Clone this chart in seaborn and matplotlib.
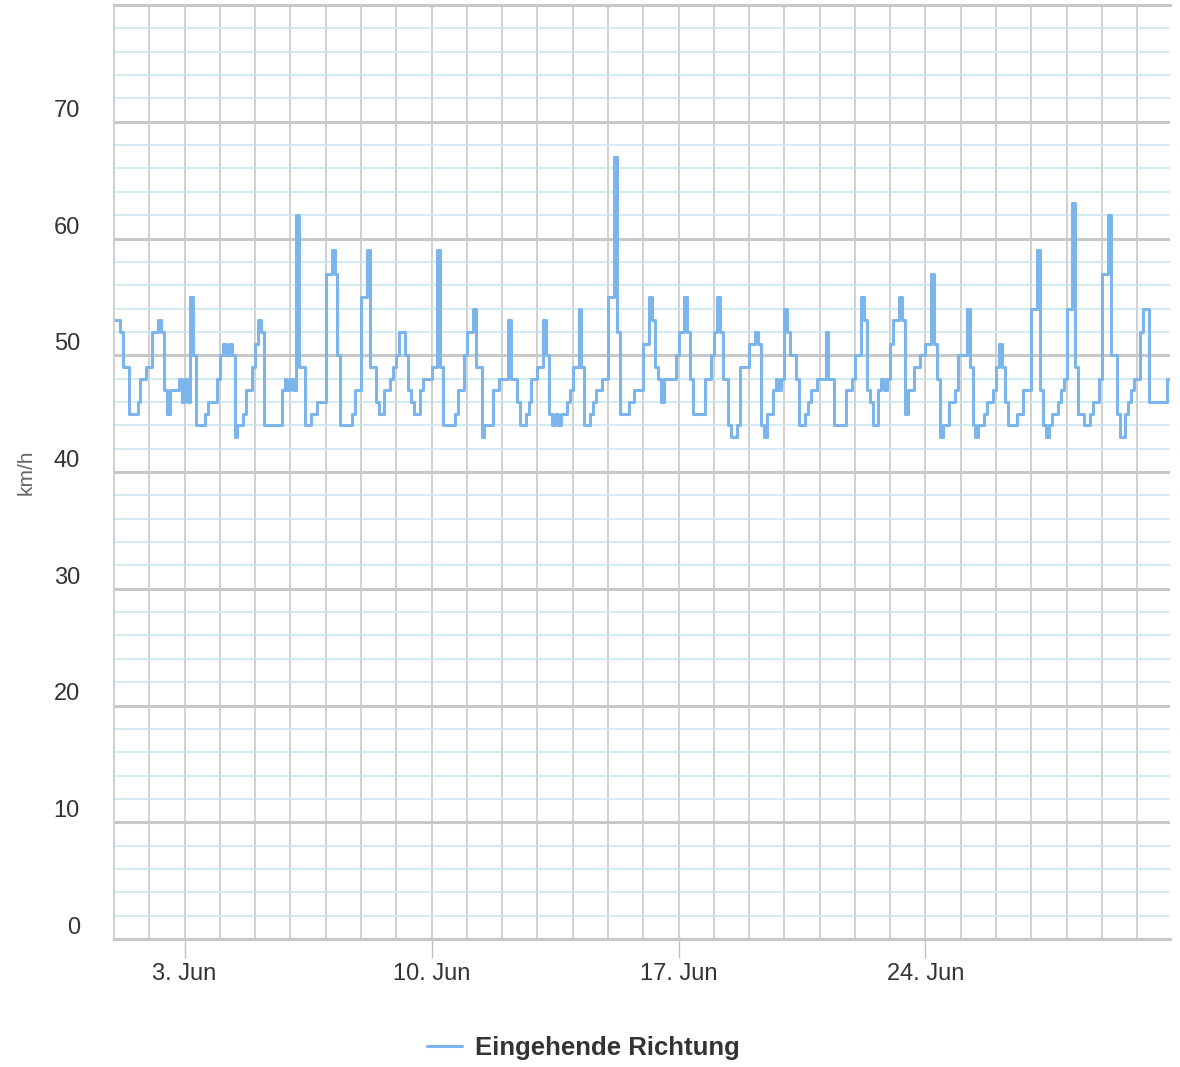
import matplotlib
matplotlib.use("Agg")

import pandas as pd
import matplotlib.pyplot as plt
import matplotlib.dates as mdates
from matplotlib.ticker import MultipleLocator
import seaborn as sns

# ======================================================
# DATA  (2-hour readings, km/h, from 1 June 00:00)
# ======================================================

START = "2019-06-01 00:00"
END = "2019-06-30 22:20"
STEP = "2h"

week1 = [
    53, 53, 52, 49, 49, 45, 45, 45, 46, 48, 48, 49,   # 1 Jun
    49, 52, 52, 53, 52, 47, 45, 47, 47, 47, 48, 46,   # 2 Jun
    48, 46, 55, 50, 44, 44, 44, 45, 46, 46, 46, 48,   # 3 Jun
    50, 51, 50, 51, 50, 43, 44, 44, 45, 47, 47, 49,   # 4 Jun
    51, 53, 52, 44, 44, 44, 44, 44, 44, 47, 48, 47,   # 5 Jun
    48, 47, 62, 49, 49, 44, 44, 45, 45, 46, 46, 46,   # 6 Jun
    57, 57, 59, 57, 50, 44, 44, 44, 44, 45, 47, 47,   # 7 Jun
]

week2 = [
    55, 55, 59, 49, 49, 46, 45, 45, 47, 47, 48, 49,   # 8 Jun
    50, 52, 52, 50, 47, 46, 45, 45, 47, 48, 48, 48,   # 9 Jun
    49, 49, 59, 49, 44, 44, 44, 44, 45, 47, 47, 50,   # 10 Jun
    52, 52, 54, 49, 49, 43, 44, 44, 44, 47, 47, 48,   # 11 Jun
    48, 48, 53, 48, 48, 46, 44, 44, 45, 46, 48, 48,   # 12 Jun
    49, 49, 53, 50, 45, 44, 45, 44, 45, 45, 46, 47,   # 13 Jun
    49, 49, 54, 49, 44, 44, 45, 46, 47, 47, 48, 48,   # 14 Jun
]

week3 = [
    55, 55, 67, 52, 45, 45, 45, 46, 46, 47, 47, 47,   # 15 Jun
    51, 51, 55, 53, 49, 48, 46, 48, 48, 48, 48, 50,   # 16 Jun
    52, 52, 55, 52, 48, 45, 45, 45, 45, 48, 48, 50,   # 17 Jun
    52, 55, 52, 48, 48, 44, 43, 43, 44, 49, 49, 49,   # 18 Jun
    51, 51, 52, 51, 44, 43, 45, 45, 47, 48, 47, 48,   # 19 Jun
    54, 52, 50, 50, 48, 44, 44, 45, 46, 47, 47, 48,   # 20 Jun
    48, 48, 52, 48, 48, 44, 44, 44, 44, 47, 47, 48,   # 21 Jun
]

week4 = [
    50, 50, 55, 53, 47, 46, 44, 44, 47, 48, 47, 48,   # 22 Jun
    51, 53, 53, 55, 53, 45, 47, 47, 49, 49, 50, 50,   # 23 Jun
    51, 51, 57, 51, 48, 43, 44, 44, 46, 46, 47, 50,   # 24 Jun
    50, 50, 54, 49, 44, 43, 44, 44, 45, 46, 46, 47,   # 25 Jun
    49, 51, 49, 46, 44, 44, 44, 45, 45, 47, 47, 47,   # 26 Jun
    54, 54, 59, 47, 44, 43, 44, 45, 45, 46, 47, 48,   # 27 Jun
    54, 54, 63, 49, 45, 45, 44, 44, 45, 46, 46, 48,   # 28 Jun
]

week5 = [
    57, 57, 62, 50, 50, 45, 43, 43, 45, 46, 47, 48,   # 29 Jun
    48, 52, 54, 54, 46, 46, 46, 46, 46, 46, 48, 48,   # 30 Jun
]

x_tick_dates = ["2019-06-03", "2019-06-10", "2019-06-17", "2019-06-24"]
x_tick_labels = ["3. Jun", "10. Jun", "17. Jun", "24. Jun"]
y_ticks = [0, 10, 20, 30, 40, 50, 60, 70, 80]
y_tick_labels = ["0", "10", "20", "30", "40", "50", "60", "70", ""]

SERIES_NAME = "Eingehende Richtung"
Y_LABEL = "km/h"

# ======================================================
# STYLE
# ======================================================

LINE_COLOR = "#7cb5ec"
GRID_MAJOR = "#c8c8c8"
GRID_MINOR = "#c8e5f1"
GRID_DAY = "#d0d0d0"
TEXT_COLOR = "#333333"

sns.set_theme(style="white")
plt.rcParams["font.family"] = ["Liberation Sans", "DejaVu Sans"]

# ======================================================
# PLOT
# ======================================================

speed = week1 + week2 + week3 + week4 + week5
times = pd.date_range(START, periods=len(speed), freq=STEP)
df = pd.DataFrame({"time": times, "speed": speed})

fig = plt.figure(figsize=(11.8, 10.67), dpi=100)
ax = fig.add_axes([114 / 1180, 1 - 939 / 1067, 1056 / 1180, 934 / 1067])

sns.lineplot(
    data=df,
    x="time",
    y="speed",
    ax=ax,
    color=LINE_COLOR,
    linewidth=2.2,
    drawstyle="steps-post",
    estimator=None,
    label=SERIES_NAME,
    legend=False,
)

ax.set_xlim(pd.Timestamp(START), pd.Timestamp(END))
ax.set_ylim(0, 80)

# grid
ax.set_axisbelow(True)
ax.set_yticks(y_ticks)
ax.set_yticklabels(y_tick_labels)
ax.yaxis.set_minor_locator(MultipleLocator(2))
ax.xaxis.set_minor_locator(mdates.DayLocator())
ax.grid(which="both", axis="x", color=GRID_DAY, linewidth=1.4)
ax.grid(which="minor", axis="y", color=GRID_MINOR, linewidth=1.1)
ax.grid(which="major", axis="y", color=GRID_MAJOR, linewidth=2.2)

# x ticks
ax.set_xticks(pd.to_datetime(x_tick_dates))
ax.set_xticklabels(x_tick_labels)
ax.tick_params(axis="x", which="major", direction="out", length=14,
               width=1, color="#c0c0c0", pad=3, labelsize=17,
               labelcolor=TEXT_COLOR, bottom=True)
ax.tick_params(axis="x", which="minor", length=0)
ax.tick_params(axis="y", which="both", length=0, pad=24.5,
               labelsize=17, labelcolor=TEXT_COLOR)
for label in ax.get_yticklabels():
    label.set_verticalalignment("bottom")

ax.set_xlabel("")
ax.set_ylabel(Y_LABEL, fontsize=15, color="#666666")
ax.yaxis.set_label_coords(-0.074, 0.5)

for side in ["top", "bottom"]:
    ax.spines[side].set_color(GRID_MAJOR)
    ax.spines[side].set_linewidth(2.2)
ax.spines["left"].set_color(GRID_DAY)
ax.spines["left"].set_linewidth(1.4)
ax.spines["right"].set_visible(False)

# legend
handles, labels = ax.get_legend_handles_labels()
fig.legend(
    handles,
    labels,
    loc="center",
    bbox_to_anchor=(0.4945, 1 - 1048 / 1067),
    frameon=False,
    handlelength=1.35,
    handletextpad=0.5,
    prop={"size": 18.5, "weight": "bold"},
    labelcolor=TEXT_COLOR,
)

fig.savefig("out.png", dpi=100)
